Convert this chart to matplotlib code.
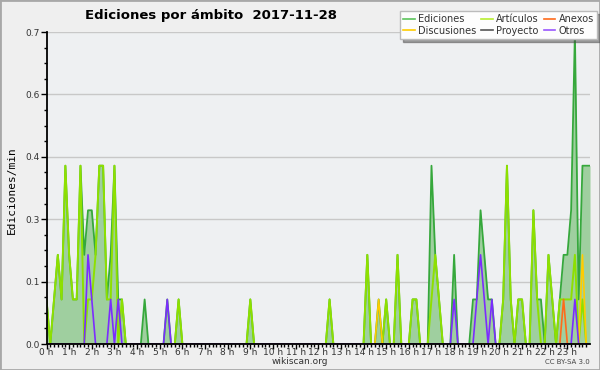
import numpy as np
import matplotlib
matplotlib.use("Agg")
import matplotlib.pyplot as plt
from matplotlib.lines import Line2D
from matplotlib.patches import Rectangle

# ediciones por tramo de 10 minutos (una fila = una hora), valor = ediciones/min * 10
ediciones = [
    1, 0, 1, 2, 1, 4,   # 0 h
    2, 1, 1, 4, 2, 3,   # 1 h
    3, 2, 4, 4, 1, 2,   # 2 h
    4, 1, 1, 0, 0, 0,   # 3 h
    0, 0, 1, 0, 0, 0,   # 4 h
    0, 0, 1, 0, 0, 1,   # 5 h
    0, 0, 0, 0, 0, 0,   # 6 h
    0, 0, 0, 0, 0, 0,   # 7 h
    0, 0, 0, 0, 0, 0,   # 8 h
    1, 0, 0, 0, 0, 0,   # 9 h
    0, 0, 0, 0, 0, 0,   # 10 h
    0, 0, 0, 0, 0, 0,   # 11 h
    0, 0, 0, 1, 0, 0,   # 12 h
    0, 0, 0, 0, 0, 0,   # 13 h
    0, 2, 0, 0, 1, 0,   # 14 h
    1, 0, 0, 2, 0, 0,   # 15 h
    0, 1, 1, 0, 0, 0,   # 16 h
    4, 2, 1, 0, 0, 0,   # 17 h
    2, 0, 0, 0, 0, 1,   # 18 h
    1, 3, 2, 1, 1, 0,   # 19 h
    0, 1, 4, 1, 0, 1,   # 20 h
    1, 0, 0, 3, 1, 1,   # 21 h
    0, 2, 1, 0, 1, 2,   # 22 h
    2, 3, 7, 1, 4, 4,   # 23 h
    4,
]

articulos = [
    1, 0, 1, 2, 1, 4,
    2, 1, 1, 4, 0, 1,
    1, 2, 4, 4, 1, 1,
    4, 0, 1, 0, 0, 0,
    0, 0, 0, 0, 0, 0,
    0, 0, 0, 0, 0, 1,
    0, 0, 0, 0, 0, 0,
    0, 0, 0, 0, 0, 0,
    0, 0, 0, 0, 0, 0,
    1, 0, 0, 0, 0, 0,
    0, 0, 0, 0, 0, 0,
    0, 0, 0, 0, 0, 0,
    0, 0, 0, 1, 0, 0,
    0, 0, 0, 0, 0, 0,
    0, 2, 0, 0, 0, 0,
    1, 0, 0, 2, 0, 0,
    0, 1, 1, 0, 0, 0,
    1, 2, 1, 0, 0, 0,
    0, 0, 0, 0, 0, 0,
    0, 0, 0, 0, 0, 0,
    0, 1, 4, 1, 0, 1,
    1, 0, 0, 3, 1, 0,
    0, 2, 1, 0, 1, 1,
    1, 1, 2, 0, 1, 0,
    0,
]

# series casi vacias: {tramo: valor}
anexos = {137: 1}
discusiones = {88: 1, 142: 2}
proyecto = {}
otros = {11: 2, 12: 1, 17: 1, 19: 1, 32: 1, 108: 1, 114: 1, 115: 2,
         116: 1, 118: 1, 140: 1}

horas = [f"{h} h" for h in range(24)]

n = len(ediciones)
x = np.arange(n) / 6.0


def serie(v):
    if isinstance(v, dict):
        a = np.zeros(n)
        for k, val in v.items():
            a[k] = val
        return a / 10.0
    return np.array(v) / 10.0


c_ed = "#36a83c"
c_art = "#8ee000"
c_anx = "#ff6a1a"
c_dis = "#ffcc00"
c_pro = "#555555"
c_otr = "#7b2cff"

fig = plt.figure(figsize=(6, 3.7), dpi=100, facecolor="#efefef")
ax = fig.add_axes([46.5 / 600, 26 / 370, (590 - 46.5) / 600, (344 - 32) / 370])
ax.set_facecolor("#eef0f2")

ed = serie(ediciones)
ax.fill_between(x, 0, ed, color="#9fcf9f", lw=0, zorder=2)
ax.plot(x, ed, color=c_ed, lw=1.3, zorder=3)
ax.plot(x, serie(articulos), color=c_art, lw=1.4, zorder=4)
ax.plot(x, serie(proyecto), color=c_pro, lw=1.2, zorder=5)
ax.plot(x, serie(anexos), color=c_anx, lw=1.2, zorder=5)
ax.plot(x, serie(discusiones), color=c_dis, lw=1.2, zorder=5)
ax.plot(x, serie(otros), color=c_otr, lw=1.2, zorder=6)

ax.set_xlim(0, 24)
ax.set_ylim(0, 0.7)
yt = np.linspace(0, 0.7, 6)
ax.set_yticks(yt)
ax.set_yticklabels([f"{v:.1f}" for v in yt])
ax.set_yticks(np.linspace(0, 0.7, 21), minor=True)
ax.set_xticks(range(24))
ax.set_xticklabels(horas)
ax.set_xticks(np.arange(0, 24, 1 / 6), minor=True)
ax.grid(axis="y", color="#c8c8c8", lw=1, zorder=1)
ax.set_axisbelow(True)

for s in ["top", "right"]:
    ax.spines[s].set_visible(False)
for s in ["left", "bottom"]:
    ax.spines[s].set_linewidth(1.3)
    ax.spines[s].set_zorder(10)
ax.tick_params(which="major", length=4, width=1, labelsize=6.5, colors="#000",
               labelcolor="#333", pad=1)
ax.tick_params(axis="x", which="major", length=3.5, pad=-0.5)
ax.tick_params(which="minor", length=2.5, width=1)

fig.text(85 / 600, 1 - 15 / 370, "Ediciones por ámbito  2017-11-28",
         fontsize=9.5, weight="bold", va="center", ha="left")
fig.text(12 / 600, 1 - 190 / 370, "Ediciones/min", rotation=90,
         family="DejaVu Sans Mono", fontsize=8, va="center", ha="center")
fig.text(300 / 600, 1 - 362 / 370, "wikiscan.org", fontsize=6.5,
         color="#333", ha="center", va="center")
fig.text(590 / 600, 1 - 362 / 370, "CC BY-SA 3.0", fontsize=5,
         color="#444", ha="right", va="center")

handles = [
    Line2D([], [], color="#5cc45c", lw=1.2), Line2D([], [], color=c_dis, lw=1.2),
    Line2D([], [], color="#b8ee30", lw=1.2), Line2D([], [], color=c_pro, lw=1.2),
    Line2D([], [], color=c_anx, lw=1.2), Line2D([], [], color="#9955ff", lw=1.2),
]
labels = ["Ediciones", "Discusiones", "Artículos", "Proyecto", "Anexos", "Otros"]
leg = fig.legend(handles, labels, ncol=3, loc="upper right",
                 bbox_to_anchor=(597 / 600, 1 - 11 / 370), fontsize=7,
                 frameon=True, shadow=True, fancybox=False, handlelength=1.2,
                 handletextpad=0.35, columnspacing=0.5, borderpad=0.3,
                 labelspacing=0.2, borderaxespad=0)
leg.get_frame().set_facecolor("#fdfdfd")
leg.get_frame().set_edgecolor("#bbbbbb")
for t in leg.get_texts():
    t.set_color("#333")

fig.patches.append(Rectangle((0, 0), 1, 1, transform=fig.transFigure,
                             fill=False, edgecolor="#a8a8a8", lw=2))

fig.savefig("out.png", dpi=100, facecolor=fig.get_facecolor())
